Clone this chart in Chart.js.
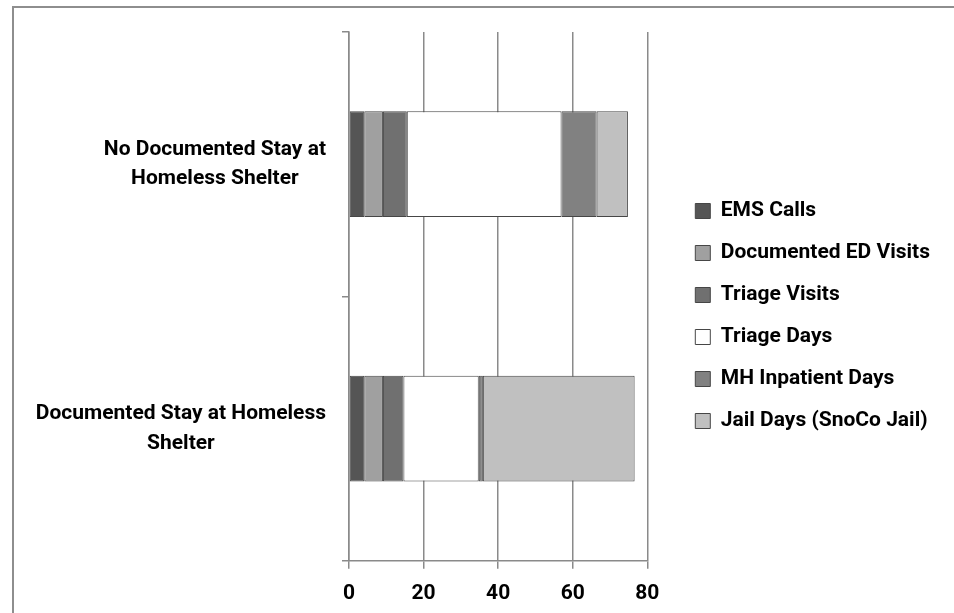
<!DOCTYPE html>
<html lang="en">

<head>
    <meta charset="UTF-8">
    <title>Utilization by shelter stay</title>
    <script src="https://cdn.jsdelivr.net/npm/chart.js@4.3.3/dist/chart.umd.min.js"></script>
    <style>
        body {
            margin: 0px;
            background: #ffffff;
        }
        .graph-container {
            position: relative;
            width: 954px;
            height: 613px;
            overflow: hidden;
        }
        .frame {
            position: absolute;
            left: 12px;
            top: 6px;
            right: 0px;
            bottom: 0px;
            border-left: 2px solid #8e8e8e;
            border-top: 2px solid #8e8e8e;
            pointer-events: none;
        }
    </style>
</head>

<body>
    <div class="graph-container">
        <canvas id="myChart"></canvas>
        <div class="frame"></div>
    </div>

    <script>
        // data
        const categories = [
            ['No Documented Stay at', 'Homeless Shelter'],
            ['Documented Stay at Homeless', 'Shelter']
        ];
        const seriesNames = ['EMS Calls', 'Documented ED Visits', 'Triage Visits', 'Triage Days', 'MH Inpatient Days', 'Jail Days (SnoCo Jail)'];
        const emsCalls = [4.1, 4.1];
        const edVisits = [5.0, 5.0];
        const triageVisits = [6.4, 5.5];
        const triageDays = [41.5, 20.2];
        const mhInpatientDays = [9.4, 1.1];
        const jailDays = [8.4, 40.7];
        const xTicks = [0, 20, 40, 60, 80];

        const seriesColors = ['#555555', '#a0a0a0', '#707070', '#ffffff', '#818181', '#c0c0c0'];
        const gridColor = '#8a8a8a';
        const labelFont = { family: 'Roboto', size: 21, weight: 'bold', lineHeight: 1.4 };
        const tickFont = { family: 'Roboto', size: 21, weight: 'bold', lineHeight: 1.2 };

        var ctx = document.getElementById('myChart').getContext('2d');

        // Excel-style category labels: each block right-aligned, its lines centred in the block
        const categoryLabels = {
            id: 'categoryLabels',
            afterDraw: function (chart) {
                const scale = chart.scales.y;
                const c = chart.ctx;
                c.save();
                c.font = 'bold 21px Roboto';
                c.fillStyle = '#000000';
                c.textAlign = 'center';
                c.textBaseline = 'middle';
                const right = scale.right - 23;
                categories.forEach(function (lines, i) {
                    const y = scale.getPixelForTick(i);
                    const widest = Math.max.apply(null, lines.map(function (l) { return c.measureText(l).width; }));
                    const x = right - widest / 2;
                    lines.forEach(function (line, j) {
                        c.fillText(line, x, y + (j - (lines.length - 1) / 2) * 29.5);
                    });
                });
                c.restore();
            }
        };

        function prepareChart() {
            const values = [emsCalls, edVisits, triageVisits, triageDays, mhInpatientDays, jailDays];
            const datasets = seriesNames.map(function (name, i) {
                return {
                    label: name,
                    data: values[i],
                    backgroundColor: seriesColors[i],
                    borderColor: '#464646',
                    borderWidth: 1,
                    borderSkipped: false,
                    barPercentage: 0.4,
                    categoryPercentage: 1.0
                };
            });

            const optionsData = {
                indexAxis: 'y',
                responsive: true,
                maintainAspectRatio: false,
                animation: { duration: 0 },
                layout: {
                    padding: { left: 0, top: 32, right: 14, bottom: 13 }
                },
                plugins: {
                    tooltip: { enabled: false },
                    legend: {
                        position: 'right',
                        align: 'center',
                        maxWidth: 320,
                        labels: {
                            boxWidth: 15,
                            boxHeight: 15,
                            padding: 21,
                            color: '#000000',
                            font: labelFont
                        }
                    }
                },
                scales: {
                    x: {
                        stacked: true,
                        min: 0,
                        max: 80,
                        afterBuildTicks: function (axis) {
                            axis.ticks = xTicks.map(function (v) { return { value: v }; });
                        },
                        afterFit: function (axis) {
                            axis.height = axis.height - 18;
                        },
                        grid: {
                            color: gridColor,
                            lineWidth: 1.5,
                            tickLength: 8
                        },
                        border: { display: true, color: gridColor, width: 1.5 },
                        ticks: {
                            color: '#000000',
                            font: tickFont,
                            padding: 12,
                            maxRotation: 0
                        }
                    },
                    y: {
                        stacked: true,
                        offset: true,
                        afterFit: function (axis) {
                            axis.width = 349;
                            axis.paddingTop = 0;
                            axis.paddingBottom = 0;
                        },
                        grid: {
                            offset: true,
                            drawOnChartArea: false,
                            color: gridColor,
                            lineWidth: 1.5,
                            tickLength: 7
                        },
                        border: { display: true, color: gridColor, width: 1.5 },
                        ticks: {
                            display: false,
                            font: labelFont
                        }
                    },
                    // empty axis that keeps a gap between plot and legend
                    gap: {
                        type: 'category',
                        axis: 'y',
                        position: 'right',
                        labels: [],
                        afterFit: function (axis) {
                            axis.width = 27;
                            axis.paddingTop = 0;
                            axis.paddingBottom = 0;
                        },
                        grid: { display: false },
                        border: { display: false },
                        ticks: { display: false }
                    }
                }
            };

            var chart = new Chart(ctx, {
                type: 'bar',
                data: {
                    labels: categories,
                    datasets: datasets
                },
                options: optionsData,
                plugins: [categoryLabels]
            });
            return chart;
        }

        var chart = prepareChart();
    </script>
</body>

</html>
